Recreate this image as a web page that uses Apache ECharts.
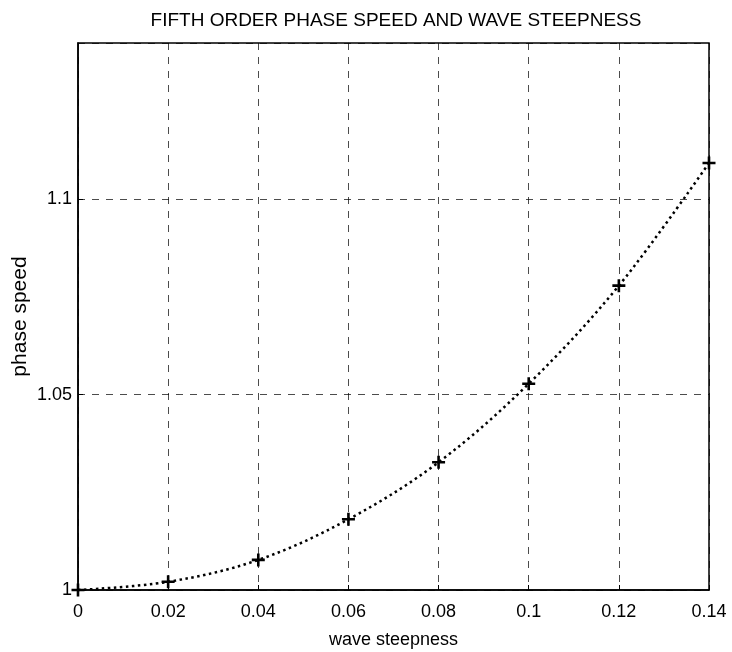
<!DOCTYPE html>
<html><head><meta charset="utf-8">
<script src="https://cdn.jsdelivr.net/npm/echarts@6/dist/echarts.min.js"></script>
<style>html,body{margin:0;padding:0;background:#fff}#c{width:732px;height:652px}</style>
</head><body><div id="c"></div>
<script>
const steepness = [0, 0.02, 0.04, 0.06, 0.08, 0.10, 0.12, 0.14];
const phaseSpeed = [1.0, 1.0021, 1.0077, 1.0181, 1.0327, 1.0528, 1.0779, 1.1093];
const xTicks = [0, 0.02, 0.04, 0.06, 0.08, 0.1, 0.12, 0.14];
const yTicks = [1, 1.05, 1.1];

const chart = echarts.init(document.getElementById('c'));
const font = "'Liberation Sans', Arial, sans-serif";
chart.setOption({
  animation: false,
  title: { text: 'FIFTH ORDER PHASE SPEED AND WAVE STEEPNESS', left: 391, top: 6, textAlign: 'center',
    textStyle: { fontFamily: font, fontSize: 19, fontWeight: 'normal', color: '#000' } },
  grid: { left: 78, right: 23, top: 43, bottom: 62, containLabel: false, outerBoundsMode: 'none',
    show: true, borderColor: '#000', borderWidth: 1.5, backgroundColor: '#fff' },
  xAxis: {
    type: 'value', min: 0, max: 0.14, interval: 0.02,
    name: 'wave steepness', nameLocation: 'middle', nameGap: 41,
    nameTextStyle: { fontFamily: font, fontSize: 18, color: '#000' },
    axisLine: { lineStyle: { color: '#000', width: 1.5 } },
    axisTick: { inside: true, length: 5, lineStyle: { color: '#000' } },
    axisLabel: { fontFamily: font, fontSize: 18, color: '#000', margin: 13,
      formatter: v => { const t = xTicks.find(a => Math.abs(a - v) < 1e-9); return t === undefined ? '' : String(t); } },
    splitLine: { show: true, lineStyle: { color: '#000', type: [7, 7], width: 1, opacity: 0.7 } }
  },
  yAxis: {
    type: 'value', min: 1, max: 1.14, interval: 0.05,
    name: 'phase speed', nameLocation: 'middle', nameGap: 47, nameRotate: 90, nameMoveOverlap: false,
    nameTextStyle: { fontFamily: font, fontSize: 21, color: '#000' },
    axisLine: { lineStyle: { color: '#000', width: 1.5 } },
    axisTick: { inside: true, length: 5, lineStyle: { color: '#000' } },
    axisLabel: { fontFamily: font, fontSize: 18, color: '#000', margin: 6, showMaxLabel: false,
      formatter: v => { const t = yTicks.find(a => Math.abs(a - v) < 1e-9); return t === undefined ? '' : String(t); } },
    splitLine: { show: true, lineStyle: { color: '#000', type: [7, 7], width: 1, opacity: 0.7 } }
  },
  series: [{
    type: 'line',
    data: steepness.map((x, i) => [x, phaseSpeed[i]]),
    smooth: 0.35,
    lineStyle: { color: '#000', width: 2.5, type: [2.5, 3.5] },
    symbol: 'path://M4,0H6V4H10V6H6V10H4V6H0V4H4Z',
    symbolSize: 13,
    showAllSymbol: true,
    itemStyle: { color: '#000' },
    clip: false
  }]
});
</script></body></html>
